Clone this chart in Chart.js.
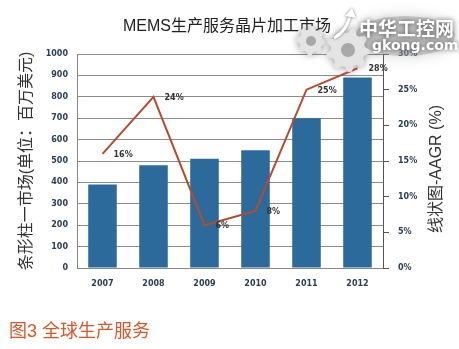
<!DOCTYPE html>
<html>
<head>
<meta charset="utf-8">
<script src="https://cdn.jsdelivr.net/npm/chart.js@4/dist/chart.umd.min.js"></script>
<style>
  html, body { margin: 0; padding: 0; background: #fff; }
  #wrap { position: relative; width: 459px; height: 349px; }
</style>
</head>
<body>
<div id="wrap"><canvas id="chartCanvas"></canvas></div>
<script>
// --- data ---
const years = ["2007", "2008", "2009", "2010", "2011", "2012"];
const marketValues = [390, 480, 510, 550, 700, 890];   // 百万美元
const aagrValues = [16, 24, 6, 8, 25, 28];              // %

const chartTitle = "MEMS生产服务晶片加工市场";
const leftTitle = "条形柱一市场(单位：百万美元)";
const rightTitle = "线状图-AAGR (%)";
const caption = "图3 全球生产服务";

const CJK = "'Liberation Sans', 'Noto Sans CJK SC', sans-serif";
const tickFont = { family: "'DejaVu Sans', Verdana, sans-serif", size: 8, weight: "bold" };
const tickColor = "#2a3d52";

// --- titles, caption, point labels ---
const textPlugin = {
  id: "texts",
  afterDatasetsDraw(chart) {
    const ctx = chart.ctx;
    ctx.save();

    // percentage labels to the right of each line point
    const meta = chart.getDatasetMeta(1);
    ctx.font = "bold 8px 'DejaVu Sans', Verdana, sans-serif";
    ctx.fillStyle = "#333";
    ctx.textAlign = "left";
    ctx.textBaseline = "middle";
    meta.data.forEach((pt, i) => {
      ctx.fillText(aagrValues[i] + "%", pt.x + 11, pt.y + 1);
    });

    // chart title
    ctx.fillStyle = "#222";
    ctx.textAlign = "center";
    ctx.font = "16px " + CJK;
    ctx.fillText(chartTitle, 227, 27);

    // axis titles, both read bottom-to-top
    const midY = (chart.chartArea.top + chart.chartArea.bottom) / 2;
    ctx.fillStyle = "#333";
    ctx.font = "16px " + CJK;
    ctx.save();
    ctx.translate(27, midY);
    ctx.rotate(-Math.PI / 2);
    ctx.fillText(leftTitle, 0, 0);
    ctx.restore();

    ctx.save();
    ctx.translate(437, midY + 8);
    ctx.rotate(-Math.PI / 2);
    ctx.fillText(rightTitle, 0, 0);
    ctx.restore();

    // caption
    ctx.fillStyle = "#d4582a";
    ctx.textAlign = "left";
    ctx.font = "18px " + CJK;
    ctx.fillText(caption, 9, 332);

    ctx.restore();
  }
};

// --- site stamp in the top right corner ---
function gear(ctx, cx, cy, r, teeth) {
  ctx.beginPath();
  const steps = teeth * 4;
  for (let i = 0; i <= steps; i++) {
    const a = (i / steps) * Math.PI * 2;
    const rr = (Math.floor(i / 2) % 2 === 0) ? r : r * 0.78;
    const x = cx + Math.cos(a) * rr;
    const y = cy + Math.sin(a) * rr;
    if (i === 0) ctx.moveTo(x, y); else ctx.lineTo(x, y);
  }
  ctx.closePath();
  ctx.fill();
}

const stampPlugin = {
  id: "stamp",
  afterDraw(chart) {
    const ctx = chart.ctx;
    ctx.save();

    // soft grey backdrop
    ctx.fillStyle = "rgba(160,160,160,0.45)";
    ctx.shadowColor = "rgba(140,140,140,0.8)";
    ctx.shadowBlur = 14;
    ctx.beginPath();
    ctx.ellipse(405, 36, 50, 20, 0, 0, Math.PI * 2);
    ctx.fill();

    // gears
    ctx.shadowBlur = 7;
    ctx.shadowColor = "rgba(110,110,110,0.7)";
    ctx.fillStyle = "#e4e4e4";
    gear(ctx, 311, 41, 15, 8);
    gear(ctx, 348, 50, 22, 9);
    ctx.shadowBlur = 0;
    ctx.fillStyle = "#a8a8a8";
    ctx.beginPath(); ctx.arc(311, 41, 5, 0, Math.PI * 2); ctx.fill();
    ctx.beginPath(); ctx.arc(348, 50, 7, 0, Math.PI * 2); ctx.fill();

    // arrow
    ctx.strokeStyle = "#ffffff";
    ctx.lineWidth = 3;
    ctx.shadowColor = "rgba(90,90,90,0.8)";
    ctx.shadowBlur = 3;
    ctx.beginPath();
    ctx.moveTo(334, 38);
    ctx.quadraticCurveTo(348, 30, 350, 14);
    ctx.stroke();
    ctx.fillStyle = "#ffffff";
    ctx.beginPath();
    ctx.moveTo(345, 16); ctx.lineTo(352, 8); ctx.lineTo(356, 18);
    ctx.closePath(); ctx.fill();

    // text
    ctx.shadowColor = "rgba(60,60,60,0.9)";
    ctx.shadowBlur = 5;
    ctx.fillStyle = "#ffffff";
    ctx.textAlign = "left";
    ctx.textBaseline = "middle";
    ctx.font = "bold 19px 'Noto Sans CJK SC', sans-serif";
    ctx.fillText("中华工控网", 359, 29);
    ctx.font = "bold 14px 'DejaVu Sans', sans-serif";
    ctx.fillText("gkong.com", 372, 46);

    ctx.restore();
  }
};

// --- chart ---
new Chart(document.getElementById("chartCanvas"), {
  type: "bar",
  data: {
    labels: years,
    datasets: [
      {
        type: "bar",
        data: marketValues,
        yAxisID: "y",
        backgroundColor: "#2b6a9b",
        barPercentage: 0.56,
        categoryPercentage: 1,
        order: 2
      },
      {
        type: "line",
        data: aagrValues,
        yAxisID: "y1",
        borderColor: "#b84a2c",
        borderWidth: 2,
        pointRadius: 0,
        tension: 0,
        order: 1
      }
    ]
  },
  options: {
    responsive: true,
    maintainAspectRatio: false,
    animation: false,
    layout: { padding: { top: 54, left: 0, right: 0, bottom: 0 } },
    plugins: {
      legend: { display: false },
      tooltip: { enabled: false }
    },
    scales: {
      x: {
        grid: { display: false, drawTicks: false },
        border: { color: "#888" },
        ticks: { font: tickFont, color: tickColor, padding: 11 },
        afterFit(scale) { scale.height = 81; }
      },
      y: {
        position: "left",
        min: 0,
        max: 1000,
        ticks: {
          stepSize: 100,
          font: tickFont,
          color: tickColor,
          padding: 9,
          callback: v => String(v)
        },
        grid: { color: "#8c8c8c", lineWidth: 1, drawTicks: false },
        border: { color: "#888" },
        afterFit(scale) { scale.width = 77; }
      },
      y1: {
        position: "right",
        min: 0,
        max: 30,
        ticks: {
          stepSize: 5,
          font: tickFont,
          color: tickColor,
          padding: 9,
          callback: v => v + "%"
        },
        grid: { drawOnChartArea: false, drawTicks: true, tickLength: 6, color: "#555" },
        border: { color: "#555" },
        afterFit(scale) { scale.width = 76; }
      }
    }
  },
  plugins: [textPlugin, stampPlugin]
});
</script>
</body>
</html>
